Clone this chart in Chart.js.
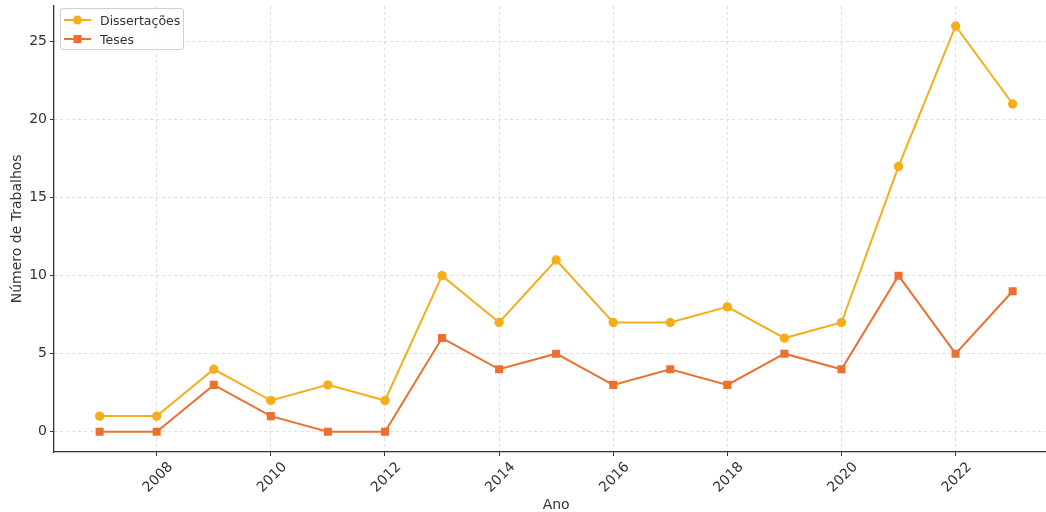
<!DOCTYPE html>
<html>
<head>
<meta charset="utf-8">
<script src="https://cdn.jsdelivr.net/npm/chart.js@4.4.1/dist/chart.umd.min.js"></script>
<style>
  html, body { margin: 0; padding: 0; background: #fff; overflow: hidden; width: 1046px; height: 512px; }
  #wrap { position: relative; width: 1064px; height: 512px; }
  #legend { position: absolute; left: 60px; top: 8px; width: 122px; height: 40px; border: 1px solid #d0d0d0; border-radius: 3px; background: rgba(255,255,255,0.85); font-family: "DejaVu Sans", sans-serif; font-size: 12.5px; color: #333; }
  .row { position: absolute; left: 3px; height: 18px; display: flex; align-items: center; }
  .row span { margin-left: 9px; }
</style>
</head>
<body>
<div id="wrap">
  <canvas id="c" width="1064" height="512"></canvas>
  <div id="legend"></div>
</div>
<script>
const years = [2007, 2008, 2009, 2010, 2011, 2012, 2013, 2014, 2015, 2016, 2017, 2018, 2019, 2020, 2021, 2022, 2023];
const dissertacoes = [1, 1, 4, 2, 3, 2, 10, 7, 11, 7, 7, 8, 6, 7, 17, 26, 21];
const teses = [0, 0, 3, 1, 0, 0, 6, 4, 5, 3, 4, 3, 5, 4, 10, 5, 9];
const xTicks = [2008, 2010, 2012, 2014, 2016, 2018, 2020, 2022];
const yTicks = [0, 5, 10, 15, 20, 25];
const seriesNames = ['Dissertações', 'Teses'];
const seriesColors = ['#f5ad1c', '#ea7130'];

const FONT = '"DejaVu Sans", sans-serif';
const toPts = arr => arr.map((v, i) => ({ x: years[i], y: v }));

const gridOpts = {
  color: 'rgba(0,0,0,0.17)',
  lineWidth: 0.8,
  drawTicks: true,
  tickLength: 4,
  tickColor: '#333',
  tickWidth: 1,
  tickBorderDash: []
};
const borderOpts = { display: true, color: '#333', width: 1.3, dash: [3, 3] };

const chart = new Chart(document.getElementById('c'), {
  type: 'line',
  data: {
    datasets: [
      {
        label: seriesNames[0],
        data: toPts(dissertacoes),
        borderColor: seriesColors[0],
        backgroundColor: seriesColors[0],
        borderWidth: 2,
        pointStyle: 'circle',
        pointRadius: 4.7,
        pointBorderWidth: 0,
        order: 2,
        tension: 0
      },
      {
        label: seriesNames[1],
        data: toPts(teses),
        borderColor: seriesColors[1],
        backgroundColor: seriesColors[1],
        borderWidth: 2,
        pointStyle: 'rect',
        pointRadius: 5.7,
        pointBorderWidth: 0,
        order: 1,
        tension: 0
      }
    ]
  },
  options: {
    responsive: false,
    animation: false,
    devicePixelRatio: 1,
    layout: { padding: { top: -2, right: 1, left: 0, bottom: 0 } },
    plugins: { legend: { display: false }, tooltip: { enabled: false } },
    scales: {
      x: {
        type: 'linear',
        min: 2006.2,
        max: 2023.8,
        afterBuildTicks: s => { s.ticks = xTicks.map(v => ({ value: v })); },
        afterFit: s => { s.height = 60; s.paddingLeft = 0; s.paddingRight = 0; s.paddingTop = 0; s.paddingBottom = 0; },
        grid: gridOpts,
        border: borderOpts,
        ticks: {
          minRotation: 45, maxRotation: 45, padding: 3, labelOffset: 14,
          color: '#333', font: { family: FONT, size: 14 },
          callback: v => String(v)
        },
        title: { display: true, text: 'Ano', color: '#333', font: { family: FONT, size: 14, lineHeight: 1 }, padding: { top: 0, bottom: 0 } }
      },
      y: {
        type: 'linear',
        min: -1.3,
        max: 27.3,
        afterBuildTicks: s => { s.ticks = yTicks.map(v => ({ value: v })); },
        afterFit: s => { s.width = 54; s.paddingTop = 0; s.paddingBottom = 0; s.paddingLeft = 0; s.paddingRight = 0; },
        grid: gridOpts,
        border: borderOpts,
        ticks: { padding: 3, color: '#333', font: { family: FONT, size: 14 }, callback: v => String(v) },
        title: { display: true, text: 'Número de Trabalhos', color: '#333', font: { family: FONT, size: 14, lineHeight: 1.2 }, padding: { top: 9, bottom: 0 } }
      }
    }
  }
});

// HTML legend built from the chart's datasets
const legend = document.getElementById('legend');
chart.data.datasets.forEach((ds, i) => {
  const row = document.createElement('div');
  row.className = 'row';
  row.style.top = (i === 0 ? 2 : 21) + 'px';
  const marker = ds.pointStyle === 'rect'
    ? `<rect x="9.5" y="1" width="8" height="8" fill="${ds.borderColor}"/>`
    : `<circle cx="13.5" cy="5" r="4.5" fill="${ds.borderColor}"/>`;
  row.innerHTML = `<svg width="27" height="10"><line x1="0" y1="5" x2="27" y2="5" stroke="${ds.borderColor}" stroke-width="2"/>${marker}</svg><span>${ds.label}</span>`;
  legend.appendChild(row);
});
</script>
</body>
</html>
